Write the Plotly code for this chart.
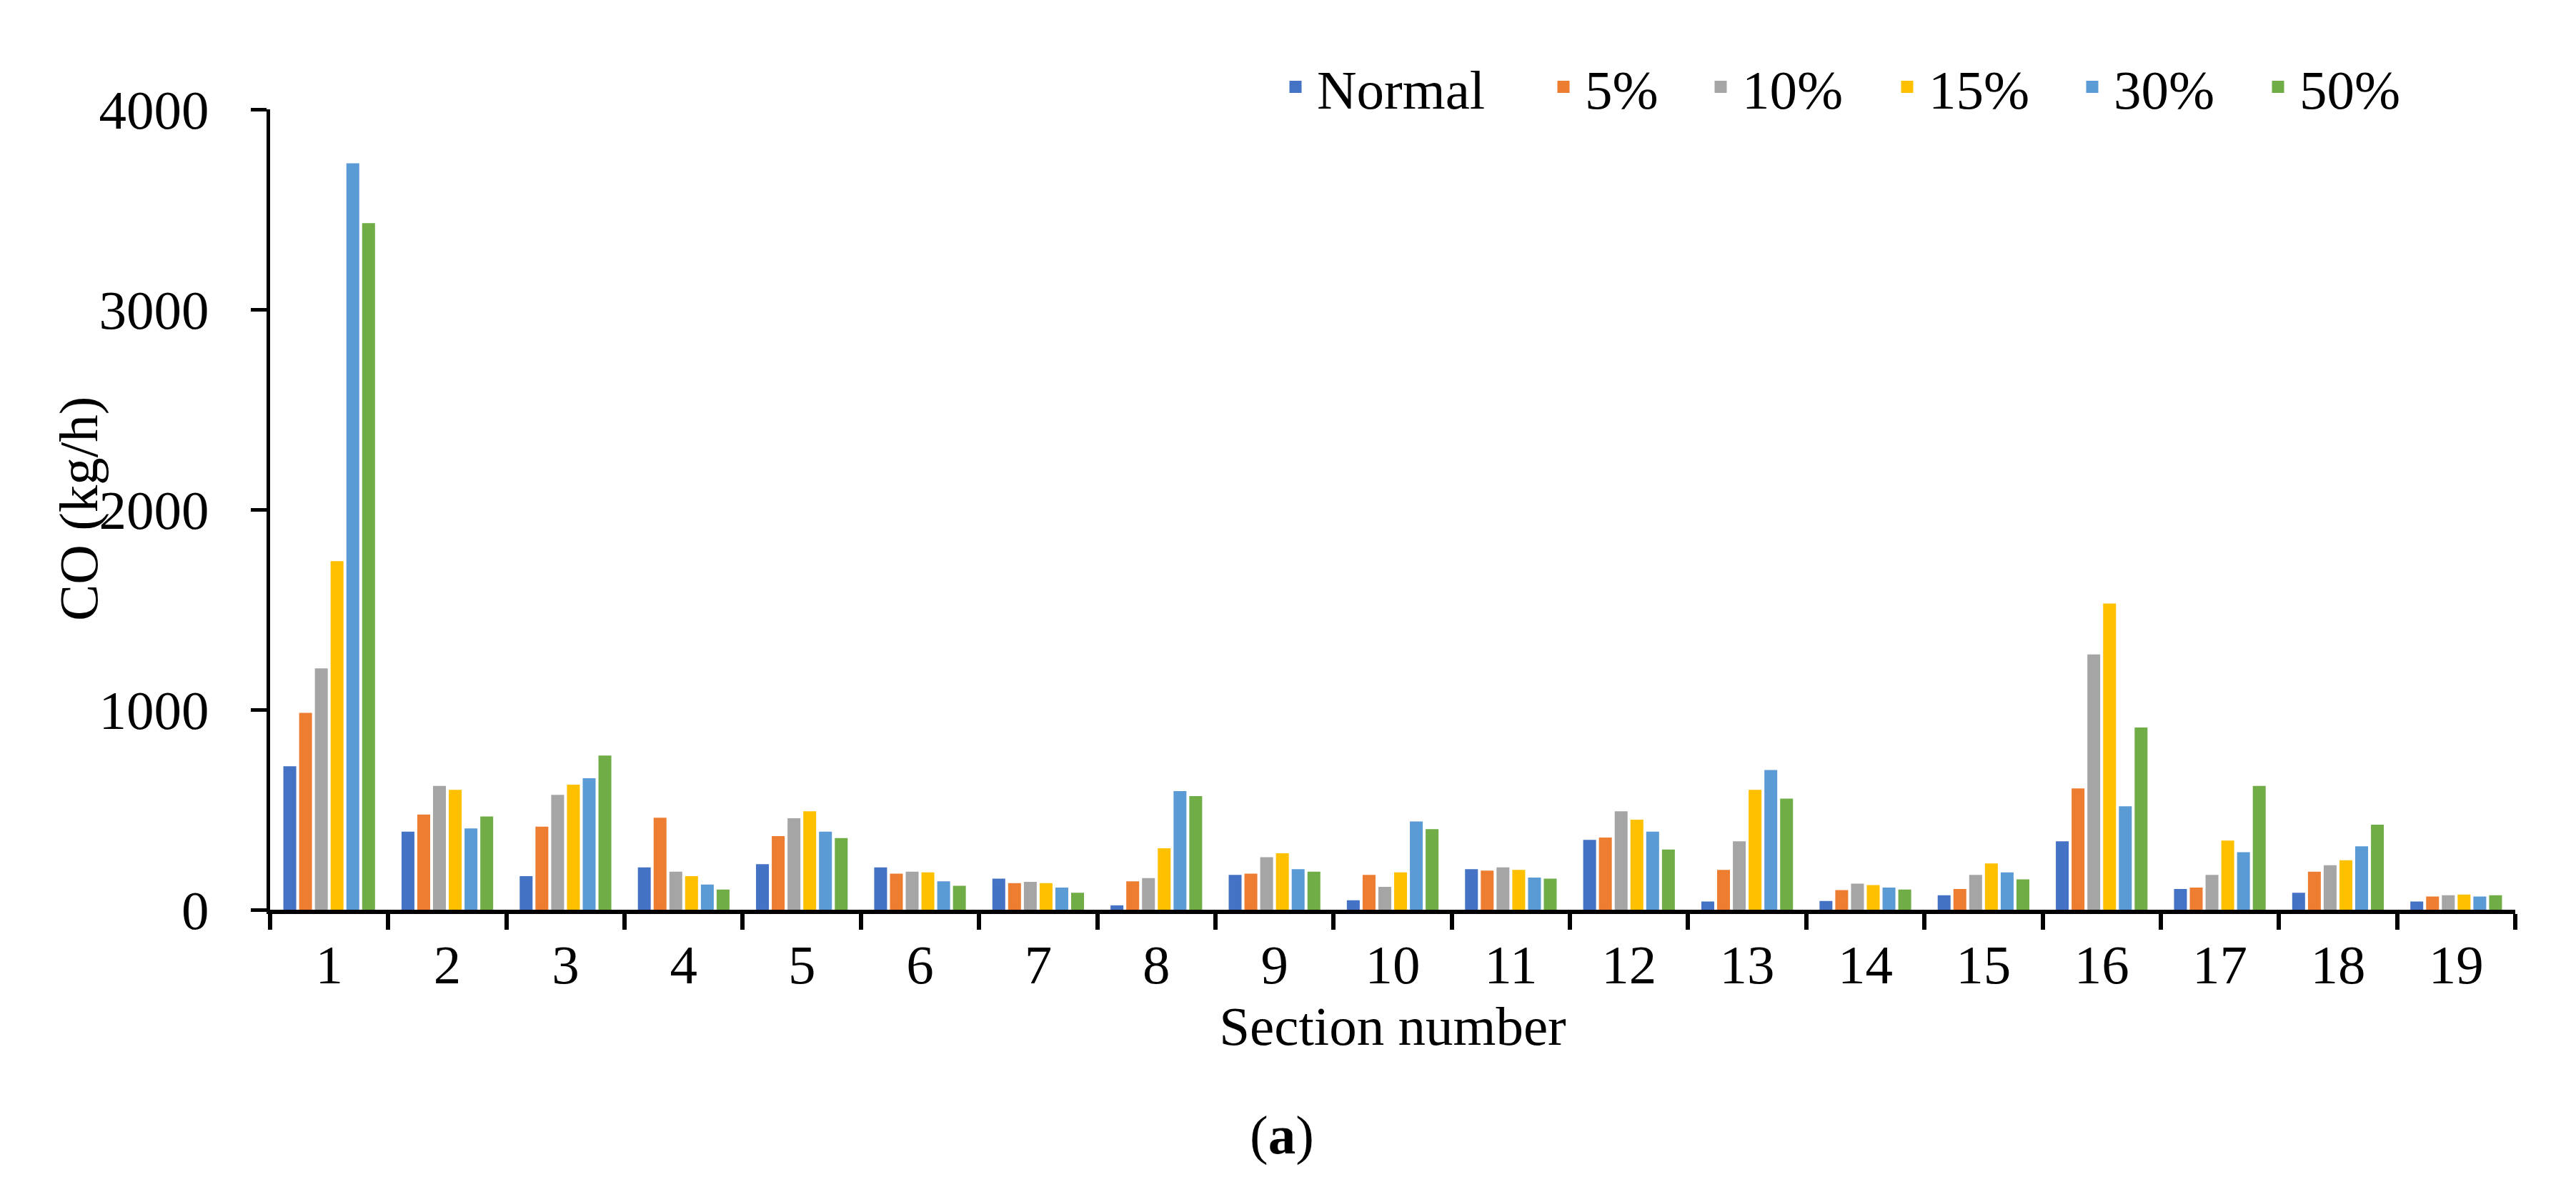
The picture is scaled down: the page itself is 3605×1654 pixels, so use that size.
import plotly.graph_objects as go

sections = [str(i) for i in range(1, 20)]
series_names = ["Normal", "5%", "10%", "15%", "30%", "50%"]
normal = [708, 381, 159, 203, 219, 203, 146, 13, 165, 38, 194, 340, 32, 35, 63, 333, 95, 76, 32]
p5 = [975, 467, 406, 451, 359, 171, 124, 133, 171, 165, 187, 352, 190, 89, 95, 597, 102, 181, 57]
p10 = [1197, 610, 565, 181, 448, 181, 130, 149, 254, 105, 203, 483, 333, 121, 165, 1267, 165, 213, 63]
p15 = [1733, 590, 616, 159, 483, 178, 124, 298, 273, 178, 190, 441, 590, 114, 222, 1521, 337, 238, 67]
p30 = [3721, 397, 648, 117, 381, 133, 102, 584, 194, 432, 152, 381, 689, 102, 178, 508, 279, 308, 57]
p50 = [3422, 457, 762, 92, 349, 111, 76, 559, 181, 394, 146, 292, 546, 92, 143, 902, 610, 416, 63]
y_ticks = [0, 1000, 2000, 3000, 4000]

colors = ["#4472C4", "#ED7D31", "#A5A5A5", "#FFC000", "#5B9BD5", "#70AD47"]
values = [normal, p5, p10, p15, p30, p50]

W, H = 3605, 1654
ML, MR, MT, MB = 370, 93, 145, 389
PW = W - ML - MR
PH = H - MT - MB
FONT = "Liberation Serif, Times New Roman, serif"
FS = 77

# legend item left positions (px)
leg_px = [1775, 2150, 2370, 2631, 2890, 3150]
leg_y_px = 114

fig = go.Figure()
for i, (name, vals) in enumerate(zip(series_names, values)):
    key = "legend" if i == 0 else f"legend{i+1}"
    fig.add_trace(go.Bar(
        x=sections, y=vals, name=name,
        marker=dict(color=colors[i], line=dict(width=5, color=colors[i])),
        legend=key,
    ))

layout_legends = {}
for i in range(6):
    key = "legend" if i == 0 else f"legend{i+1}"
    layout_legends[key] = dict(
        x=(leg_px[i] - ML) / PW, y=(H - MB - leg_y_px) / PH,
        xanchor="left", yanchor="middle",
        orientation="h", font=dict(family=FONT, size=FS, color="black"),
        bgcolor="rgba(0,0,0,0)", borderwidth=0, itemwidth=50,
        tracegroupgap=0,
    )

fig.update_layout(
    width=W, height=H,
    margin=dict(l=ML, r=MR, t=MT, b=MB),
    paper_bgcolor="white", plot_bgcolor="white",
    barmode="group", bargap=0.2, bargroupgap=0.41,
    font=dict(family=FONT, size=FS, color="black"),
    showlegend=True,
    **layout_legends,
)

fig.update_xaxes(
    type="category", showline=True, linecolor="black", linewidth=6,
    ticks="outside", tickson="boundaries", ticklen=22, tickwidth=6, tickcolor="black",
    ticklabelstandoff=5,
    showgrid=False, zeroline=False,
    tickfont=dict(family=FONT, size=FS, color="black"),
    title=dict(text="Section number", font=dict(family=FONT, size=FS, color="black"), standoff=0),
)
fig.update_yaxes(
    range=[0, 4000], tickvals=y_ticks, showline=True, linecolor="black", linewidth=5,
    ticks="outside", ticklen=22, tickwidth=5, tickcolor="black",
    ticklabelstandoff=43,
    showgrid=False, zeroline=False,
    tickfont=dict(family=FONT, size=FS, color="black"),
)

# y-axis title placed close to the tick labels as in the reference
fig.add_annotation(
    text="CO (kg/h)", xref="paper", yref="paper",
    x=(102 - ML) / PW, y=(H - MB - 704) / PH,
    xanchor="center", yanchor="middle", textangle=-90, showarrow=False,
    font=dict(family=FONT, size=FS, color="black"),
)

fig.add_annotation(
    text="(<b>a</b>)", xref="paper", yref="paper",
    x=(1786 - ML) / PW, y=(H - MB - 1580) / PH,
    xanchor="center", yanchor="middle", showarrow=False,
    font=dict(family=FONT, size=FS, color="black"),
)

fig.write_html("out.html")
